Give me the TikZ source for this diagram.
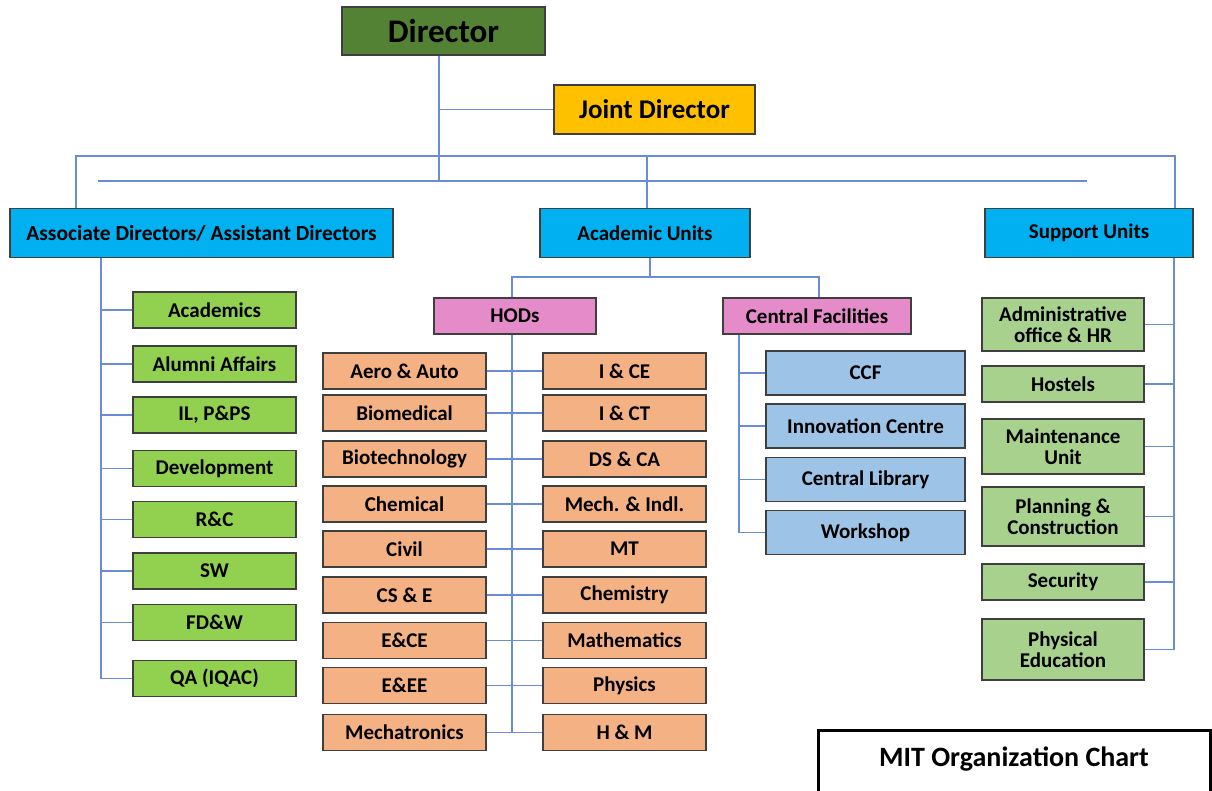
\documentclass[tikz,border=0pt]{standalone}
\usepackage{fontspec}
\setmainfont{Carlito}
\definecolor{bordercol}{HTML}{3F3F3F}
\definecolor{conncol}{HTML}{6A8CD6}
\definecolor{dirgreen}{HTML}{548235}
\definecolor{jointyel}{HTML}{FFC000}
\definecolor{unitblue}{HTML}{00B0F0}
\definecolor{leafgreen}{HTML}{92D050}
\definecolor{pinkhead}{HTML}{E68BC9}
\definecolor{deptorange}{HTML}{F4B183}
\definecolor{facblue}{HTML}{9DC3E6}
\definecolor{supgreen}{HTML}{A9D18E}
\begin{document}
\begin{tikzpicture}[x=1pt,y=-1pt,
  box/.style={draw=bordercol, line width=1.3pt, inner sep=0pt, align=center,
    font=\bfseries\fontsize{21}{21}\selectfont, text=black},
  conn/.style={draw=conncol, line width=1.4pt},
  unitbox/.style={box, fill=unitblue, minimum height=49pt},
  agreen/.style={box, fill=leafgreen, minimum width=163pt, minimum height=36pt},
  dept/.style={box, fill=deptorange, minimum width=163pt, minimum height=36pt},
  fac/.style={box, fill=facblue, minimum width=199pt, minimum height=44pt},
  sup/.style={box, fill=supgreen, minimum width=162pt},
  headbox/.style={box, fill=pinkhead, minimum height=36pt}
]
\useasboundingbox (0,0) rectangle (1212,791);
\fill[white] (0,0) rectangle (1212,791);

% top level
\node[box, fill=dirgreen, minimum width=203pt, minimum height=48pt,
  font=\bfseries\fontsize{33}{36}\selectfont] (dir) at (443.5,31) {Director};
\node[box, fill=jointyel, minimum width=201pt, minimum height=49pt,
  font=\bfseries\fontsize{27}{30}\selectfont] (joint) at (654.5,109.5) {Joint Director};

\node[unitbox, minimum width=383pt, font=\bfseries\fontsize{21.5}{22}\selectfont] (assoc) at (201.5,233) {Associate Directors/ Assistant Directors};
\node[unitbox, minimum width=210pt] (acad) at (645,233) {Academic Units};
\node[unitbox, minimum width=208pt] (support) at (1089,233) {Support Units};

% associate directors
\node[agreen] (g1) at (214.5,310) {Academics};
\node[agreen] (g2) at (214.5,364) {Alumni Affairs};
\node[agreen] (g3) at (214.5,415) {IL, P\&PS};
\node[agreen] (g4) at (214.5,468.5) {Development};
\node[agreen] (g5) at (214.5,519.5) {R\&C};
\node[agreen] (g6) at (214.5,571) {SW};
\node[agreen] (g7) at (214.5,622.5) {FD\&W};
\node[agreen] (g8) at (214.5,678.5) {QA (IQAC)};

% academic units
\node[headbox, minimum width=162pt] (hods) at (515,316) {HODs};
\node[headbox, minimum width=188pt] (cf) at (817,316) {Central Facilities};

\node[dept] (l1) at (404.5,371) {Aero \& Auto};
\node[dept] (l2) at (404.5,413) {Biomedical};
\node[dept] (l3) at (404.5,459) {Biotechnology};
\node[dept] (l4) at (404.5,504) {Chemical};
\node[dept] (l5) at (404.5,549) {Civil};
\node[dept] (l6) at (404.5,595) {CS \& E};
\node[dept] (l7) at (404.5,640.5) {E\&CE};
\node[dept] (l8) at (404.5,685.5) {E\&EE};
\node[dept] (l9) at (404.5,732.5) {Mechatronics};

\node[dept] (r1) at (624.5,371) {I \& CE};
\node[dept] (r2) at (624.5,413) {I \& CT};
\node[dept] (r3) at (624.5,459) {DS \& CA};
\node[dept] (r4) at (624.5,504) {Mech. \& Indl.};
\node[dept] (r5) at (624.5,549) {MT};
\node[dept] (r6) at (624.5,595) {Chemistry};
\node[dept] (r7) at (624.5,640.5) {Mathematics};
\node[dept] (r8) at (624.5,685.5) {Physics};
\node[dept] (r9) at (624.5,732.5) {H \& M};

\node[fac] (f1) at (865.5,373) {CCF};
\node[fac] (f2) at (865.5,426) {Innovation Centre};
\node[fac] (f3) at (865.5,479.5) {Central Library};
\node[fac] (f4) at (865.5,532.5) {Workshop};

% support units
\node[sup, minimum height=53pt] (s1) at (1063,324.5) {Administrative\\office \& HR};
\node[sup, minimum height=36pt] (s2) at (1063,384) {Hostels};
\node[sup, minimum height=55pt] (s3) at (1063,446.5) {Maintenance\\Unit};
\node[sup, minimum height=59pt] (s4) at (1063,516.5) {Planning \&\\Construction};
\node[sup, minimum height=36pt] (s5) at (1063,582) {Security};
\node[sup, minimum height=61pt] (s6) at (1063,649.5) {Physical\\Education};

% title
\node[font=\bfseries\fontsize{28}{30}\selectfont] (title) at (1014,759) {MIT Organization Chart};
\draw[line width=3pt, black] (818,791) -- (818,730) -- (1210,730) -- (1210,791);

% connectors: top
\coordinate (dv) at (439,0);
\coordinate (bus1l) at (76,156);
\coordinate (bus1r) at (1175,156);
\coordinate (bus2l) at (98,181);
\coordinate (bus2r) at (1087,181);
\draw[conn] (dir.south -| dv) -- (dv |- bus2l);
\draw[conn] (dv |- joint.west) -- (joint.west);
\draw[conn] (bus1l |- assoc.north) -- (bus1l) -- (bus1r) -- (bus1r |- support.north);
\draw[conn] (647,156) -- (acad.north -| 647,0);
\draw[conn] (bus2l) -- (bus2r);

% associate vertical
\coordinate (av) at (101,0);
\draw[conn] (av |- assoc.south) -- (av |- g8.west);
\foreach \g in {g1,g2,g3,g4,g5,g6,g7,g8}{
  \draw[conn] (av |- \g.west) -- (\g.west);
}

% academic split
\draw[conn] (acad.south -| 650,0) -- (650,277);
\draw[conn] (hods.north -| 512,0) -- (512,277) -- (819,277) -- (cf.north -| 819,0);
\coordinate (hv) at (512,0);
\draw[conn] (hods.south -| hv) -- (hv |- l9.east);
\foreach \i in {1,...,9}{
  \draw[conn] (l\i.east) -- (r\i.west);
}
\coordinate (cv) at (739,0);
\draw[conn] (cf.south -| cv) -- (cv |- f4.west);
\foreach \f in {f1,f2,f3,f4}{
  \draw[conn] (cv |- \f.west) -- (\f.west);
}

% support vertical
\coordinate (sv) at (1174,0);
\draw[conn] (support.south -| sv) -- (sv |- s6.east);
\foreach \s in {s1,s2,s3,s4,s5,s6}{
  \draw[conn] (\s.east) -- (sv |- \s.east);
}
\end{tikzpicture}
\end{document}
